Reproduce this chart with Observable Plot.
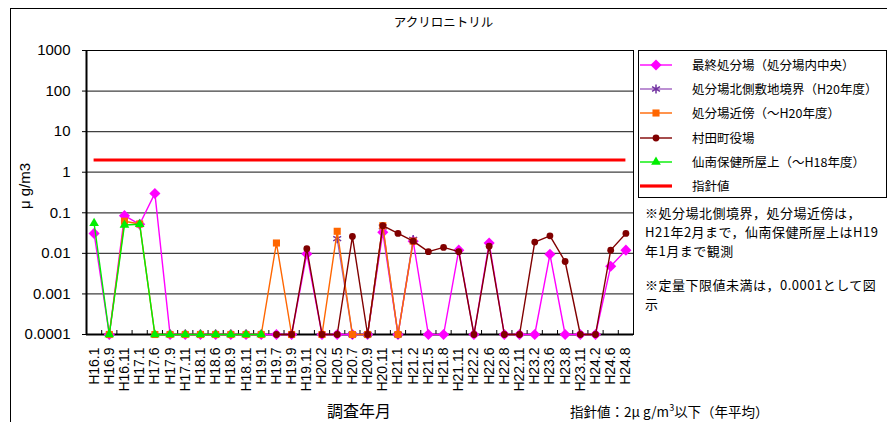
<!DOCTYPE html>
<html><head><meta charset="utf-8">
<script src="https://cdn.jsdelivr.net/npm/d3@7"></script>
<script src="https://cdn.jsdelivr.net/npm/@observablehq/plot@0.6"></script>
<style>
body{margin:0;background:#fff;}
#wrap{position:relative;width:887px;height:422px;overflow:hidden;font-family:"Noto Sans CJK JP","Liberation Sans",sans-serif;color:#000;}
#wrap svg{position:absolute;left:0;top:0;}
.abs{position:absolute;white-space:nowrap;}
#outer{position:absolute;left:10px;top:8px;width:900px;height:430px;border-left:1px solid #000;border-top:1px solid #000;}
#legend{position:absolute;left:638px;top:50px;width:247px;height:146px;border:1px solid #000;background:#fff;}
.li{position:absolute;left:0;height:20px;font-size:12.5px;line-height:20px;}
.li svg{position:absolute;left:16px;top:0;}
.li span{position:absolute;left:53px;top:0;white-space:nowrap;}
.note{font-size:13px;line-height:16px;height:16px;letter-spacing:0.5px;}
</style></head><body>
<div id="wrap"><div id="outer"></div></div>
<script>
// ---- data ----
const labels = ["H16.1","H16.9","H16.11","H17.1","H17.6","H17.9","H17.11","H18.1","H18.6","H18.9","H18.11","H19.1","H19.7","H19.9","H19.11","H20.2","H20.5","H20.7","H20.9","H20.11","H21.1","H21.2","H21.5","H21.8","H21.11","H22.2","H22.6","H22.8","H22.11","H23.2","H23.6","H23.8","H23.11","H24.2","H24.6","H24.8"];
const saishu = [0.031,0.0001,0.085,0.052,0.3,0.0001,0.0001,0.0001,0.0001,0.0001,0.0001,0.0001,0.0001,0.0001,0.0097,0.0001,0.0001,0.0001,0.0001,0.033,0.0001,0.02,0.0001,0.0001,0.012,0.0001,0.018,0.0001,0.0001,0.0001,0.0095,0.0001,0.0001,0.0001,0.0048,0.012];
const kitagawa = [null,null,null,null,null,null,null,null,null,null,null,null,null,null,null,null,0.023,0.0001,0.0001,0.045,0.0001,0.022,null,null,null,null,null,null,null,null,null,null,null,null,null,null];
const kinbou = [null,0.0001,0.062,0.053,0.0001,0.0001,0.0001,0.0001,0.0001,0.0001,0.0001,0.0001,0.018,0.0001,null,0.0001,0.035,0.0001,0.0001,0.048,0.0001,0.02,null,null,null,null,null,null,null,null,null,null,null,null,null,null];
const yakuba = [null,null,null,null,null,null,null,null,null,null,null,null,0.0001,0.0001,0.013,0.0001,0.0001,0.026,0.0001,0.048,0.031,0.02,0.011,0.014,0.011,0.0001,0.015,0.0001,0.0001,0.019,0.027,0.0063,0.0001,0.0001,0.012,0.031];
const sennan = [0.055,0.0001,0.05,0.052,0.0001,0.0001,0.0001,0.0001,0.0001,0.0001,0.0001,0.0001,null,null,null,null,null,null,null,null,null,null,null,null,null,null,null,null,null,null,null,null,null,null,null,null];
const guideValue = 2;
const yTicks = [1000,100,10,1,0.1,0.01,0.001,0.0001];
const seriesNames = ["最終処分場（処分場内中央）","処分場北側敷地境界（H20年度）","処分場近傍（～H20年度）","村田町役場","仙南保健所屋上（～H18年度）","指針値"];
const noteLines = ["※処分場北側境界，処分場近傍は，","H21年2月まで，仙南保健所屋上はH19","年1月まで観測","","※定量下限値未満は，0.0001として図","示"];

// ---- styles ----
const series = [
  {vals: saishu,  line:"#FF00FF", fill:"#FF00FF", stroke:"none", symbol:"diamond2", r:5},
  {vals: kitagawa,line:"#A060C0", fill:"none", stroke:"#7030A0", symbol:"asterisk", r:4.3},
  {vals: kinbou,  line:"#FF6600", fill:"#FF6600", stroke:"none", symbol:"square", r:4},
  {vals: yakuba,  line:"#800000", fill:"#800000", stroke:"none", symbol:"circle", r:3.4},
  {vals: sennan,  line:"#00EE00", fill:"#00EE00", stroke:"none", symbol:"triangle", r:3.6}
];

const idx = d3.range(labels.length);
const bounds = d3.range(labels.length + 1).map(i => i - 0.5);

const marks = [
  Plot.ruleY(yTicks, {y: d => d, stroke: "#404040", strokeWidth: 1.2}),
  Plot.frame({stroke: "#000", strokeWidth: 1}),
  Plot.ruleX([bounds[0]], {x: d => d, stroke: "#000", strokeWidth: 2}),
  Plot.ruleY([yTicks[yTicks.length-1]], {y: d => d, stroke: "#000", strokeWidth: 2}),
  Plot.axisY({ticks: yTicks, tickFormat: d => String(d), tickSize: 4, tickPadding: 12, fontSize: 15, label: null}),
  Plot.axisX({ticks: idx, tickFormat: i => labels[i], tickRotate: -90, tickSize: 0, tickPadding: 13, fontSize: 14, label: null}),
  Plot.axisX({ticks: bounds, tickFormat: () => "", tickSize: -4, label: null})
];
for (const s of series) {
  marks.push(Plot.line(idx, {x: i => i, y: i => s.vals[i], stroke: s.line, strokeWidth: 1.4}));
  marks.push(Plot.dot(idx, {x: i => i, y: i => s.vals[i], symbol: s.symbol, fill: s.fill, stroke: s.stroke, strokeWidth: 1.5, r: s.r}));
}
marks.push(Plot.ruleY([guideValue], {y: d => d, x1: 0, x2: labels.length - 1, stroke: "#FF0000", strokeWidth: 3.2}));

const chart = Plot.plot({
  width: 887, height: 422,
  marginLeft: 86, marginRight: 254, marginTop: 50, marginBottom: 88,
  style: {fontFamily: "'Liberation Sans', Arial, sans-serif", background: "transparent", color: "#000"},
  x: {type: "linear", domain: [-0.5, labels.length - 0.5], axis: null},
  y: {type: "log", domain: [0.0001, 1000], axis: null},
  marks
});
const wrap = document.getElementById("wrap");
wrap.appendChild(chart);

function add(html, css, cls) {
  const d = document.createElement("div");
  d.className = "abs " + (cls || "");
  d.innerHTML = html;
  Object.assign(d.style, css);
  wrap.appendChild(d);
  return d;
}
// title
add("アクリロニトリル", {left: "0px", width: "887px", top: "14px", textAlign: "center", fontSize: "12.5px", lineHeight: "16px"});
// y title
add("μ g/m3", {left: "25px", top: "186px", fontSize: "15px", lineHeight: "16px", fontFamily: "'Liberation Sans',sans-serif", transform: "translate(-50%,-50%) rotate(-90deg)"});
// x title
add("調査年月", {left: "359px", top: "402px", fontSize: "16px", lineHeight: "17px", transform: "translateX(-50%)"});
// guideline note
add("指針値：2μ g/m<sup style='font-size:9px;line-height:0;vertical-align:6px'>3</sup>以下（年平均）", {left: "570px", top: "404px", fontSize: "13.5px", lineHeight: "15px"});
// notes
const noteTops = [205, 224, 243, null, 277, 296];
noteLines.forEach((t, k) => { if (t) add(t, {left: "645px", top: noteTops[k] + "px"}, "note"); });

// legend
const lg = document.createElement("div");
lg.id = "legend";
wrap.appendChild(lg);
const legendStyles = series.map(s => ({line: s.line, fill: s.fill, stroke: s.stroke, symbol: s.symbol, r: s.r}));
legendStyles.push({line: "#FF0000", width: 3.2});
const symMap = {diamond2: d3.symbolDiamond2, asterisk: d3.symbolAsterisk, square: d3.symbolSquare, circle: d3.symbolCircle, triangle: d3.symbolTriangle};
legendStyles.forEach((st, k) => {
  const it = document.createElement("div");
  it.className = "li";
  it.style.top = (4 + k * 24.2) + "px";
  let svg = `<svg width="34" height="20"><line x1="1" x2="33" y1="10" y2="10" stroke="${st.line}" stroke-width="${st.width || 1.4}"/>`;
  if (st.symbol) {
    const p = d3.symbol(symMap[st.symbol], Math.PI * st.r * st.r)();
    svg += `<path transform="translate(17,10)" d="${p}" fill="${st.fill}" stroke="${st.stroke}" stroke-width="1.5"/>`;
  }
  svg += "</svg>";
  it.innerHTML = svg + `<span>${seriesNames[k]}</span>`;
  lg.appendChild(it);
});
</script>
</body></html>
